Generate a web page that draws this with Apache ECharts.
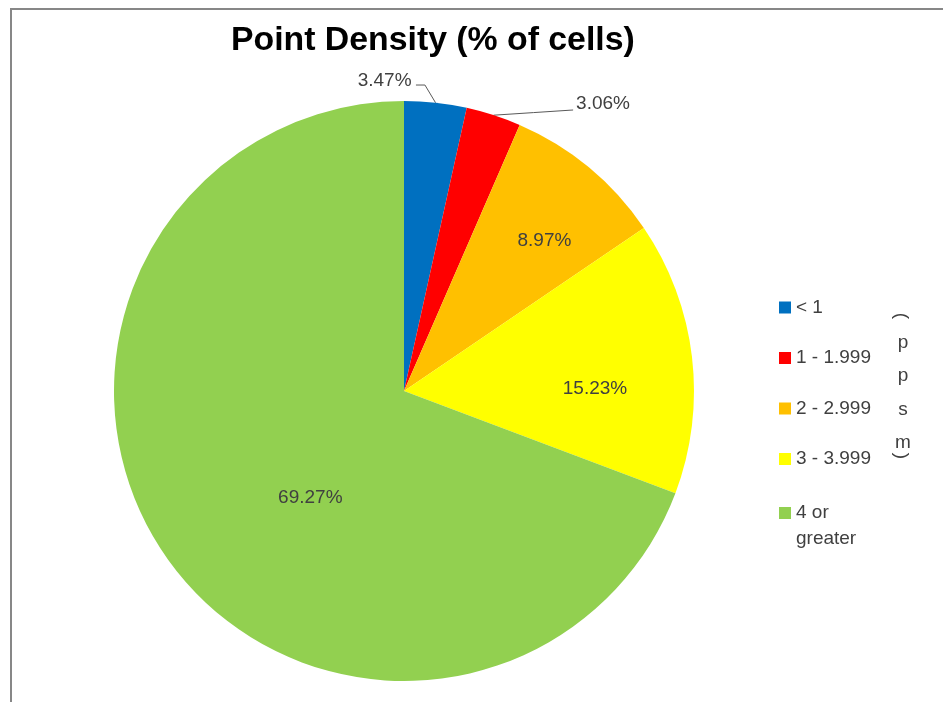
<!DOCTYPE html>
<html>
<head>
<meta charset="utf-8">
<title>Point Density</title>
<script src="https://cdn.jsdelivr.net/npm/echarts@6/dist/echarts.min.js"></script>
<style>
  html, body { margin: 0; padding: 0; background: #ffffff; }
  #chart { width: 943px; height: 702px; }
</style>
</head>
<body>
<div id="chart"></div>
<script>
// Density classes (points per square metre) and their share of cells, in percent
const categories = ['< 1', '1 - 1.999', '2 - 2.999', '3 - 3.999', '4 or\ngreater'];
const shares = [3.47, 3.06, 8.97, 15.23, 69.27];
const sliceColors = ['#0070C0', '#FF0000', '#FFC000', '#FFFF00', '#92D050'];
// Unit caption beside the legend, stacked letter by letter
const unitLetters = ['p', 'p', 's', 'm'];

const FONT = "'Liberation Sans', Arial, sans-serif";
const TEXT_GREY = '#404040';

// Label nudges (px) away from the library's default inside position
const insideNudge = { 2: [46, -36], 3: [44, 15], 4: [28, 23] };

const chart = echarts.init(document.getElementById('chart'), null, { renderer: 'canvas' });

const pieData = categories.map((name, i) => {
  const outside = i < 2;
  return {
    name: name,
    value: shares[i],
    itemStyle: { color: sliceColors[i] },
    label: { position: outside ? 'outside' : 'inside' },
    labelLine: { show: outside }
  };
});

const legendBase = {
  orient: 'vertical',
  left: 779,
  padding: 0,
  itemWidth: 12,
  itemHeight: 12,
  itemGap: 25.5,
  icon: 'rect',
  selectedMode: false,
  textStyle: { fontFamily: FONT, fontSize: 19, color: TEXT_GREY, lineHeight: 25 }
};

chart.setOption({
  animation: false,
  backgroundColor: '#ffffff',
  title: {
    text: 'Point Density (% of cells)',
    left: 231,
    top: 24,
    padding: 0,
    textStyle: { fontFamily: FONT, fontSize: 33.8, fontWeight: 'bold', color: '#000000' }
  },
  legend: [
    Object.assign({}, legendBase, {
      top: 295,
      data: categories.slice(0, categories.length - 1)
    }),
    // the two-line class: a blank leading line keeps the swatch level with "4 or"
    Object.assign({}, legendBase, {
      top: 474,
      textStyle: Object.assign({}, legendBase.textStyle, { lineHeight: 26 }),
      data: categories.slice(categories.length - 1),
      formatter: name => ' \n' + name
    })
  ],
  graphic: [
    {
      type: 'rect',
      z: -10,
      silent: true,
      shape: { x: 11, y: 9, width: 1000, height: 1000 },
      style: { fill: 'none', stroke: '#878787', lineWidth: 2 }
    },
    {
      type: 'text',
      x: 903, y: 393,
      silent: true,
      style: {
        text: unitLetters.join('\n'),
        fontFamily: FONT, fontSize: 19, lineHeight: 33.5,
        fill: TEXT_GREY, align: 'center', verticalAlign: 'middle'
      }
    },
    {
      type: 'text',
      x: 901, y: 316, rotation: -Math.PI / 2,
      silent: true,
      style: { text: '(', fontFamily: FONT, fontSize: 19, fill: TEXT_GREY, align: 'center', verticalAlign: 'middle' }
    },
    {
      type: 'text',
      x: 901, y: 456, rotation: -Math.PI / 2,
      silent: true,
      style: { text: ')', fontFamily: FONT, fontSize: 19, fill: TEXT_GREY, align: 'center', verticalAlign: 'middle' }
    }
  ],
  series: [{
    type: 'pie',
    center: [404, 391],
    radius: 290,
    startAngle: 90,
    clockwise: true,
    avoidLabelOverlap: false,
    silent: true,
    itemStyle: { borderWidth: 0 },
    label: {
      fontFamily: FONT,
      fontSize: 19,
      color: TEXT_GREY,
      formatter: p => p.value.toFixed(2) + '%'
    },
    labelLine: {
      length: 12,
      length2: 20,
      lineStyle: { color: '#595959', width: 1 }
    },
    labelLayout: function (p) {
      const i = p.dataIndex;
      const r = p.labelRect;
      if (insideNudge[i]) {
        return {
          x: r.x + r.width / 2 + insideNudge[i][0],
          y: r.y + r.height / 2 + insideNudge[i][1],
          align: 'center',
          verticalAlign: 'middle'
        };
      }
      const e = p.labelLinePoints[0];  // point on the rim at the slice's mid angle
      if (i === 0) {
        return {
          x: e[0] - 24, y: e[1] - 22,
          align: 'right', verticalAlign: 'middle',
          labelLinePoints: [[e[0], e[1]], [e[0] - 10.6, e[1] - 17.7], [e[0] - 19.6, e[1] - 17.7]]
        };
      }
      return {
        x: e[0] + 82.5, y: e[1] - 11,
        align: 'left', verticalAlign: 'middle',
        labelLinePoints: [[e[0], e[1]], [e[0] + 40, e[1] - 2.6], [e[0] + 79.5, e[1] - 5.2]]
      };
    },
    data: pieData
  }]
});
</script>
</body>
</html>
